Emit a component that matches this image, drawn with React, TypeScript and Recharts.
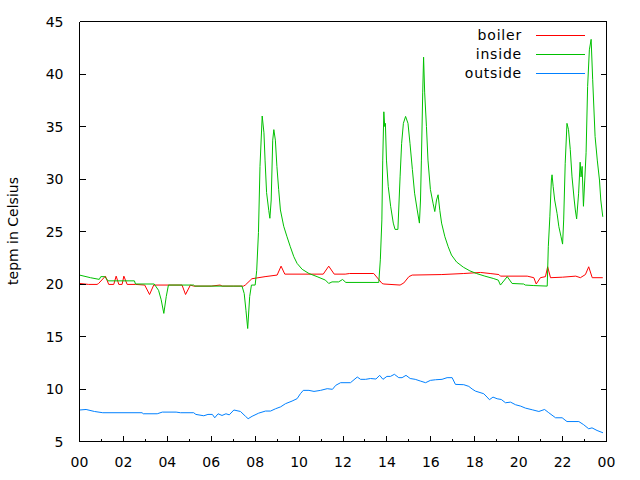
import React from 'react';
import { LineChart, Line, XAxis, YAxis, Legend, CartesianGrid } from 'recharts';

// readings as [hour of day, temperature in C]
const boilerReadings: [number, number][] = [
  [0, 20.05], [0.42, 19.96], [0.8, 19.96], [0.87, 20.05], [1.18, 20.75], [1.33, 19.96], [1.56, 19.96],
  [1.67, 20.75], [1.79, 19.96], [1.94, 19.96], [2.02, 20.75], [2.17, 19.96], [2.55, 19.96], [2.97, 19.9],
  [3.19, 19.0], [3.38, 19.9], [4.67, 19.9], [4.83, 19.0], [5.05, 19.9], [5.2, 19.8], [6.0, 19.8],
  [6.4, 19.9], [6.5, 19.8], [7.0, 19.8], [7.47, 19.8], [7.55, 19.9], [7.85, 20.5], [8.45, 20.7],
  [9.0, 20.85], [9.18, 21.7], [9.35, 20.94], [11.1, 20.94], [11.35, 21.7], [11.6, 20.94], [12.1, 20.94],
  [12.3, 21.0], [13.4, 21.0], [13.78, 20.05], [13.86, 20.0], [14.6, 19.9], [14.77, 20.1], [15.0, 20.7],
  [15.15, 20.85], [16.5, 20.9], [17.5, 21.0], [18.26, 21.1], [18.7, 21.0], [19.1, 20.9], [19.17, 20.75],
  [20.39, 20.75], [20.69, 20.6], [20.8, 20.0], [20.99, 20.6], [21.22, 20.7], [21.32, 21.64], [21.45, 20.6],
  [22.0, 20.65], [22.6, 20.75], [22.81, 20.6], [23.04, 20.9], [23.19, 21.64], [23.35, 20.6], [23.83, 20.6],
];

const insideReadings: [number, number][] = [
  [0, 20.85], [0.5, 20.6], [0.9, 20.44], [0.97, 20.7], [1.15, 20.7], [1.3, 20.3], [2.5, 20.3], [2.55, 20.0],
  [3.4, 20.0], [3.6, 19.4], [3.72, 18.5], [3.84, 17.2], [3.95, 18.8], [4.05, 19.9], [5.2, 19.9], [5.25, 19.8],
  [7.4, 19.8], [7.5, 19.1], [7.58, 17.5], [7.66, 15.76], [7.75, 18.8], [7.83, 19.9], [8.0, 19.9], [8.07, 21.3],
  [8.15, 24.9], [8.22, 31.2], [8.32, 36.0], [8.4, 34.4], [8.45, 31.8], [8.52, 28.7], [8.62, 27.0], [8.67, 26.26],
  [8.73, 28.0], [8.8, 33.7], [8.85, 34.7], [8.92, 33.7], [8.99, 31.2], [9.07, 29.0], [9.15, 27.05], [9.3, 25.5],
  [9.45, 24.5], [9.6, 23.55], [9.76, 22.6], [9.91, 21.96], [10.14, 21.4], [10.45, 21.0], [10.82, 20.7],
  [11.2, 20.37], [11.35, 20.05], [11.5, 20.2], [11.8, 20.2], [11.98, 20.43], [12.13, 20.15], [13.63, 20.15],
  [13.7, 22.3], [13.77, 26.1], [13.81, 31.8], [13.86, 36.4], [13.9, 35.0], [13.93, 35.3], [13.98, 31.8],
  [14.06, 29.3], [14.17, 27.4], [14.29, 25.8], [14.37, 25.2], [14.5, 25.2], [14.6, 30.2], [14.67, 33.4],
  [14.75, 35.3], [14.85, 35.96], [14.96, 35.3], [15.05, 33.4], [15.16, 30.9], [15.26, 28.65], [15.38, 27.05],
  [15.48, 25.8], [15.53, 28.0], [15.57, 31.8], [15.63, 38.2], [15.67, 41.6], [15.72, 38.2], [15.8, 35.0],
  [15.87, 31.8], [15.98, 29.0], [16.1, 27.7], [16.18, 26.9], [16.26, 28.0], [16.33, 28.5], [16.41, 27.0],
  [16.49, 25.8], [16.64, 24.5], [16.79, 23.55], [16.94, 22.76], [17.17, 22.1], [17.48, 21.6], [17.78, 21.25],
  [18.08, 21.0], [18.46, 20.75], [18.84, 20.53], [19.07, 20.37], [19.17, 19.9], [19.48, 20.7], [19.7, 20.05],
  [20.23, 20.0], [20.3, 19.9], [20.69, 19.85], [21.3, 19.8], [21.35, 23.55], [21.42, 26.4], [21.49, 29.9],
  [21.52, 30.4], [21.57, 29.3], [21.64, 28.0], [21.75, 26.7], [21.83, 25.46], [21.93, 24.5], [22.0, 23.8],
  [22.05, 26.1], [22.12, 31.5], [22.2, 35.3], [22.27, 34.7], [22.35, 32.8], [22.43, 30.2], [22.53, 28.0],
  [22.58, 27.05], [22.64, 26.2], [22.73, 28.65], [22.8, 31.6], [22.84, 30.2], [22.89, 31.2], [22.95, 27.4],
  [23.01, 29.9], [23.07, 32.5], [23.14, 38.8], [23.22, 42.3], [23.3, 43.3], [23.37, 39.5], [23.48, 34.05],
  [23.58, 31.8], [23.68, 29.9], [23.74, 28.0], [23.83, 26.4],
];

const outsideReadings: [number, number][] = [
  [0, 8.0], [0.3, 8.05], [0.68, 7.86], [1.06, 7.74], [2.85, 7.74], [2.9, 7.64], [3.54, 7.64], [3.77, 7.8],
  [4.4, 7.8], [4.6, 7.74], [5.2, 7.74], [5.3, 7.58], [5.66, 7.45], [5.85, 7.58], [6.05, 7.58], [6.16, 7.26],
  [6.31, 7.64], [6.49, 7.48], [6.67, 7.64], [6.82, 7.54], [7.03, 8.0], [7.33, 7.86], [7.56, 7.4], [7.68, 7.17],
  [7.86, 7.4], [8.16, 7.7], [8.47, 7.9], [8.7, 7.9], [8.93, 8.12], [9.16, 8.3], [9.38, 8.6], [9.68, 8.85],
  [9.91, 9.08], [10.06, 9.55], [10.19, 9.87], [10.45, 9.87], [10.68, 9.77], [10.98, 9.87], [11.28, 10.03],
  [11.52, 9.97], [11.67, 10.35], [11.89, 10.6], [12.34, 10.6], [12.65, 11.14], [12.8, 10.92], [13.03, 10.92],
  [13.25, 11.0], [13.5, 10.95], [13.67, 11.3], [13.82, 10.92], [14.0, 11.2], [14.16, 11.2], [14.34, 11.4],
  [14.54, 11.08], [14.69, 11.08], [14.87, 11.3], [15.06, 11.0], [15.29, 10.92], [15.52, 10.76], [15.76, 10.6],
  [15.98, 10.82], [16.21, 10.88], [16.51, 10.92], [16.74, 11.08], [16.97, 11.08], [17.12, 10.44], [17.5, 10.41],
  [17.73, 10.25], [17.88, 10.0], [18.03, 9.8], [18.41, 9.55], [18.56, 9.23], [18.67, 8.98], [18.83, 9.23],
  [19.02, 9.07], [19.21, 9.0], [19.4, 8.69], [19.63, 8.75], [19.86, 8.5], [20.09, 8.37], [20.31, 8.18],
  [20.62, 8.02], [20.92, 7.86], [21.18, 8.05], [21.37, 7.74], [21.68, 7.26], [21.98, 7.26], [22.2, 6.9],
  [22.74, 6.9], [22.96, 6.6], [23.19, 6.21], [23.34, 6.3], [23.57, 6.05], [23.84, 5.83],
];

const hourTicks = [0, 1, 2, 3, 4, 5, 6, 7, 8, 9, 10, 11, 12, 13, 14, 15, 16, 17, 18, 19, 20, 21, 22, 23, 24];
const tempTicks = [5, 10, 15, 20, 25, 30, 35, 40, 45];

const toRows = (r: [number, number][]) => r.map(([h, t]) => ({ h, t }));

const series = [
  { name: 'boiler', color: '#ff0000', rows: toRows(boilerReadings) },
  { name: 'inside', color: '#00c000', rows: toRows(insideReadings) },
  { name: 'outside', color: '#0080ff', rows: toRows(outsideReadings) },
];

const FONT = '"DejaVu Sans", sans-serif';
const FS = 14;
const INK = '#000000';
const frameLine = { stroke: INK, strokeWidth: 1, shapeRendering: 'crispEdges' };

// gnuplot style: ticks point inwards, minor ticks every hour
const BottomTick = ({ x, y, payload }: any) => {
  const h = payload.value;
  const major = h % 2 === 0;
  return (
    <g>
      <path d={`M${x},${y}V${y - (major ? 6 : 3)}`} stroke={INK} strokeWidth={1} fill="none" shapeRendering="crispEdges" />
      {major && (
        <text x={x} y={y + 25} textAnchor="middle" fontFamily={FONT} fontSize={FS} fill={INK}>
          {String(h % 24).padStart(2, '0')}
        </text>
      )}
    </g>
  );
};

const TopTick = ({ x, y, payload }: any) => (
  <path d={`M${x},${y}V${y + (payload.value % 2 === 0 ? 6 : 3)}`} stroke={INK} strokeWidth={1} fill="none"
    shapeRendering="crispEdges" />
);

const LeftTick = ({ x, y, payload }: any) => (
  <g>
    <path d={`M${x},${y}H${x + 6}`} stroke={INK} strokeWidth={1} fill="none" shapeRendering="crispEdges" />
    <text x={x - 16} y={y + 5} textAnchor="end" fontFamily={FONT} fontSize={FS} fill={INK}>
      {payload.value}
    </text>
  </g>
);

const RightTick = ({ x, y }: any) => (
  <path d={`M${x},${y}H${x - 6}`} stroke={INK} strokeWidth={1} fill="none" shapeRendering="crispEdges" />
);

const LegendBox = () => (
  <svg width={640} height={100} style={{ display: 'block' }}>
    {series.map((s, i) => (
      <g key={s.name}>
        <text x={522} y={35 + i * 19} dominantBaseline="central" textAnchor="end" letterSpacing={0.8}
          fontFamily={FONT} fontSize={FS} fill={INK}>{s.name}</text>
        <line x1={536} x2={585} y1={35.5 + i * 19} y2={35.5 + i * 19} stroke={s.color} strokeWidth={1} />
      </g>
    ))}
  </svg>
);

export default function App() {
  return (
    <div style={{ position: 'absolute', left: 0, top: 0, width: 640, height: 480, background: '#fff' }}>
      <LineChart width={640} height={480} margin={{ top: 0, right: 0, bottom: 0, left: 0 }}>
        <CartesianGrid horizontalValues={[5, 45]} verticalValues={[0, 24]} stroke={INK} strokeWidth={1}
          shapeRendering="crispEdges" />
        <XAxis dataKey="h" type="number" domain={[0, 24]} ticks={hourTicks} interval={0}
          height={38.5} tickSize={0} tickMargin={0} tick={<BottomTick />}
          axisLine={frameLine} allowDataOverflow />
        <XAxis xAxisId="top" orientation="top" type="number" domain={[0, 24]} ticks={hourTicks} interval={0}
          height={21.5} tickSize={0} tickMargin={0} tick={<TopTick />}
          axisLine={frameLine} allowDataOverflow />
        <YAxis type="number" domain={[5, 45]} ticks={tempTicks} interval={0} width={79.5}
          tickSize={0} tickMargin={0} tick={<LeftTick />} axisLine={frameLine} allowDataOverflow
          label={{
            content: () => (
              <text x={13} y={231} transform="rotate(-90 13 231)" textAnchor="middle" dominantBaseline="central"
                fontFamily={FONT} fontSize={FS} fill={INK}>tepm in Celsius</text>
            ),
          }} />
        <YAxis yAxisId="right" orientation="right" type="number" domain={[5, 45]} ticks={tempTicks} interval={0}
          width={33.5} tickSize={0} tickMargin={0} tick={<RightTick />}
          axisLine={frameLine} allowDataOverflow />
        <Legend layout="horizontal" verticalAlign="middle" align="center" content={<LegendBox />}
          wrapperStyle={{ position: 'absolute', left: 0, top: 0, width: 640, height: 100, pointerEvents: 'none' }} />
        {series.map((s) => (
          <Line key={s.name} name={s.name} data={s.rows} dataKey="t" type="linear" stroke={s.color}
            strokeWidth={1} dot={false} activeDot={false} isAnimationActive={false} />
        ))}
      </LineChart>
    </div>
  );
}
